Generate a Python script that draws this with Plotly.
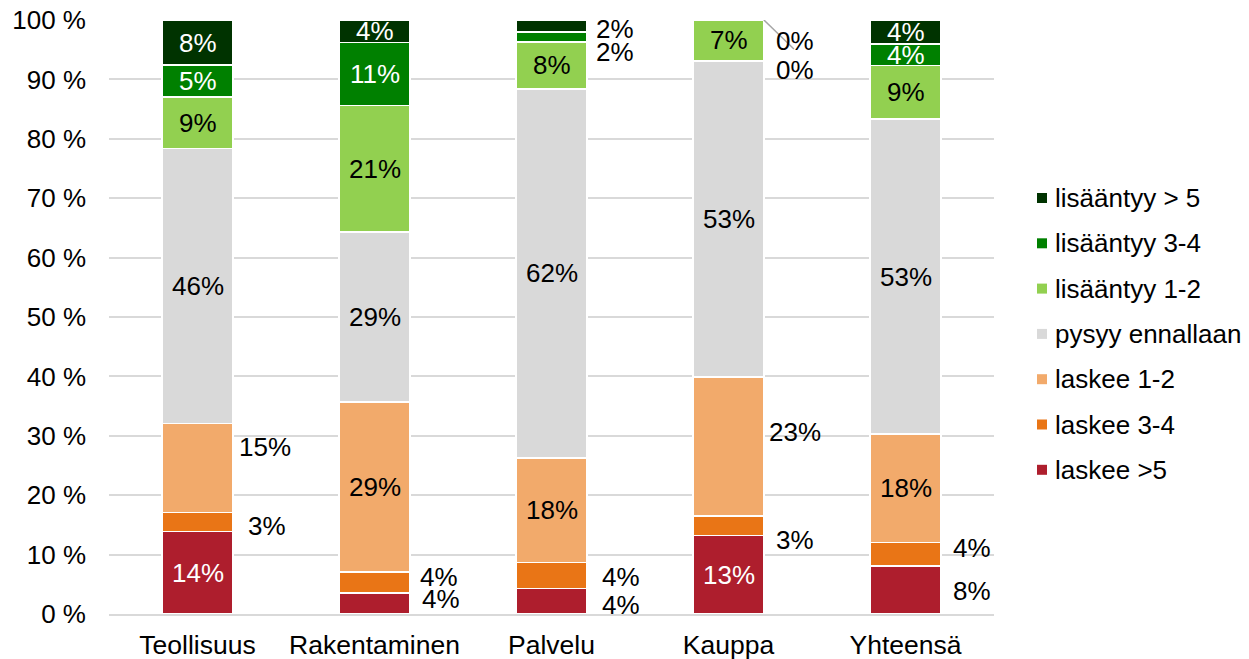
import plotly.graph_objects as go

categories = ["Teollisuus", "Rakentaminen", "Palvelu", "Kauppa", "Yhteensä"]

series_names = ["laskee >5", "laskee 3-4", "laskee 1-2", "pysyy ennallaan",
                "lisääntyy 1-2", "lisääntyy 3-4", "lisääntyy > 5"]

laskee_5 = [13.9, 3.5, 4.3, 13.2, 8.1]
laskee_34 = [3.2, 3.6, 4.4, 3.3, 3.9]
laskee_12 = [15.0, 28.6, 17.6, 23.4, 18.3]
pysyy = [46.3, 28.6, 62.1, 53.2, 53.0]
lisaantyy_12 = [8.6, 21.3, 7.9, 6.9, 9.0]
lisaantyy_34 = [5.4, 10.6, 1.7, 0.0, 3.7]
lisaantyy_5 = [7.6, 3.8, 2.0, 0.0, 4.0]

values = [laskee_5, laskee_34, laskee_12, pysyy, lisaantyy_12, lisaantyy_34, lisaantyy_5]

colors = ["#AE1E2D", "#E97516", "#F2AA6B", "#D9D9D9", "#92D050", "#008000", "#003300"]
label_colors = ["white", "black", "black", "black", "black", "white", "white"]

# labels placed outside (right of bar): (series index, category index) -> (dx px, dy px)
outside = {
    (2, 0): (4, -21), (1, 0): (13, 4),
    (1, 1): (8, -6), (0, 1): (10, -5),
    (1, 2): (13, 2), (0, 2): (13, 4), (6, 2): (7, 3), (5, 2): (7, 15),
    (2, 3): (3, -14), (1, 3): (10, 14), (6, 3): (10, 21), (5, 3): (10, 50),
    (1, 4): (10, -6), (0, 4): (10, 1),
}

FONT = "Liberation Sans, Arial, sans-serif"
FS = 26
FS_CAT = 26.5
FS_LEG = 26
BARGAP = 0.6
half = (1 - BARGAP) / 2

W, H = 1241, 651
ML, MR, MT, MB = 101, 255, 12, 45
PW, PH = W - ML - MR, H - MT - MB

fig = go.Figure()
for name, vals, col in zip(series_names, values, colors):
    fig.add_trace(go.Bar(
        x=categories, y=vals, name=name, showlegend=False,
        marker=dict(color=col, line=dict(color="white", width=1.5)),
        hoverinfo="skip",
    ))

annotations = []
cum = [0.0] * len(categories)
for si, vals in enumerate(values):
    for ci, v in enumerate(vals):
        center = cum[ci] + v / 2
        text = f"{round(v)}%"
        if (si, ci) in outside:
            dx, dy = outside[(si, ci)]
            annotations.append(dict(
                x=ci + half, y=center, xref="x", yref="y", text=text,
                showarrow=False, xanchor="left", yanchor="middle",
                xshift=dx, yshift=-dy,
                font=dict(family=FONT, size=FS, color="black"),
            ))
        else:
            annotations.append(dict(
                x=ci, y=center, xref="x", yref="y", text=text,
                showarrow=False, xanchor="center", yanchor="middle",
                font=dict(family=FONT, size=FS, color=label_colors[si]),
            ))
        cum[ci] += v

# leader line for Kauppa's zero labels
kauppa = categories.index("Kauppa")
shapes = [dict(
    type="line", xref="x", yref="y",
    xsizemode="pixel", ysizemode="pixel",
    xanchor=kauppa + half, yanchor=cum[kauppa],
    x0=0, x1=30, y0=0, y1=-29,
    line=dict(color="#A6A6A6", width=1.5),
)]

# legend (top entry = last series), drawn as squares + text in paper coords
LEG_SYM_X = 1029      # px from figure left
LEG_TXT_X = 1045
LEG_TOP_Y = 190       # px from figure top (centre of first entry)
LEG_STEP = 45.3
SQ = 10
for k, si in enumerate(reversed(range(len(series_names)))):
    cy = LEG_TOP_Y + k * LEG_STEP
    py = (MT + PH - cy) / PH
    px0 = (LEG_SYM_X - ML) / PW
    px1 = (LEG_SYM_X + SQ - ML) / PW
    half_sq = (SQ / 2) / PH
    shapes.append(dict(
        type="rect", xref="paper", yref="paper",
        x0=px0, x1=px1, y0=py - half_sq, y1=py + half_sq,
        fillcolor=colors[si], line=dict(width=0),
    ))
    annotations.append(dict(
        x=(LEG_TXT_X - ML) / PW, y=py, xref="paper", yref="paper",
        text=series_names[si], showarrow=False, xanchor="left", yanchor="middle",
        font=dict(family=FONT, size=FS_LEG, color="black"),
    ))

fig.update_layout(
    barmode="stack",
    bargap=BARGAP,
    width=W, height=H,
    margin=dict(l=ML, r=MR, t=MT, b=MB),
    plot_bgcolor="white", paper_bgcolor="white",
    font=dict(family=FONT, size=FS, color="black"),
    showlegend=False,
    annotations=annotations,
    shapes=shapes,
)
fig.update_yaxes(
    range=[0, 100], tick0=0, dtick=10, ticksuffix=" %",
    showgrid=True, gridcolor="#D9D9D9", gridwidth=1.5,
    zeroline=False, showline=False, ticks="",
    ticklabelstandoff=22, automargin=False, ticklabeloverflow="allow",
    tickfont=dict(family=FONT, size=FS, color="black"),
)
fig.update_xaxes(
    showgrid=False, zeroline=False, showline=True, linecolor="#D9D9D9", linewidth=1.5,
    ticks="", ticklabelstandoff=6, automargin=False,
    tickfont=dict(family=FONT, size=FS_CAT, color="black"),
)

fig.write_html("out.html")
